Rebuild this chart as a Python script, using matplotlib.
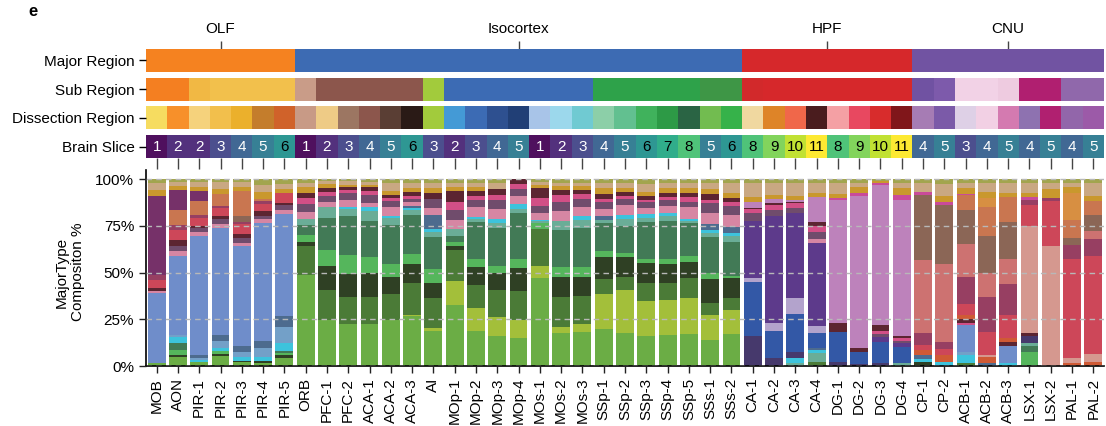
import matplotlib
matplotlib.use('Agg')
import matplotlib.pyplot as plt
import matplotlib.colors as mcolors
import numpy as np

plt.rcParams['font.family'] = ['Liberation Sans', 'DejaVu Sans']

samples = ['MOB', 'AON', 'PIR-1', 'PIR-2', 'PIR-3', 'PIR-4', 'PIR-5',
           'ORB', 'PFC-1', 'PFC-2', 'ACA-1', 'ACA-2', 'ACA-3', 'AI',
           'MOp-1', 'MOp-2', 'MOp-3', 'MOp-4', 'MOs-1', 'MOs-2', 'MOs-3',
           'SSp-1', 'SSp-2', 'SSp-3', 'SSp-4', 'SSp-5', 'SSs-1', 'SSs-2',
           'CA-1', 'CA-2', 'CA-3', 'CA-4', 'DG-1', 'DG-2', 'DG-3', 'DG-4',
           'CP-1', 'CP-2', 'ACB-1', 'ACB-2', 'ACB-3', 'LSX-1', 'LSX-2', 'PAL-1', 'PAL-2']

major_groups = ['OLF', 'Isocortex', 'HPF', 'CNU']
major_sizes = [7, 21, 8, 9]
major_group_colors = ['#f58220', '#3d6bb3', '#d6282b', '#7153a2']

sub_region_colors = (['#f47f21', '#f47f21', '#f1b844', '#f2c04c', '#f2c04c', '#f2c04c', '#f2c04c'] +
                     ['#c99c88'] + ['#8c564c'] * 5 + ['#a2cb3c'] + ['#3c6bb4'] * 7 +
                     ['#2ea24a'] * 5 + ['#3e9646'] * 2 +
                     ['#d2292b'] + ['#d6282b'] * 7 +
                     ['#7052a2', '#7d5aab', '#f2d2e6', '#f2d2e6', '#eecbe0',
                      '#b01f70', '#b01f70', '#9068ab', '#9068ab'])

dissection_colors = ['#f6dc60', '#f7902a', '#f5d27c', '#f2bf4c', '#ebb02c', '#c47d2c', '#d0622a',
                     '#c89a86', '#eecb86', '#9c7662', '#8c564c', '#5a3e34', '#2a1a16', '#a2cb3c',
                     '#449ad6', '#3c6bb4', '#2e5090', '#213f76', '#a8c4e8', '#9cd8ec', '#70cad2',
                     '#8ccfa8', '#62c090', '#40b25c', '#2d9a46', '#2a6444', '#72bc50', '#36b24a',
                     '#f0d8a0', '#de8428', '#f0674a', '#4a1c1e', '#f4a0a4', '#e84860', '#d82c2c', '#80161a',
                     '#a67cb4', '#7b5aa8', '#ded0e6', '#f2d0e4', '#d47ab0', '#8e72b0', '#b02070', '#9266aa', '#9c5aa8']

brain_slice = [1, 2, 2, 3, 4, 5, 6,
               1, 2, 3, 4, 5, 6, 3, 2, 3, 4, 5, 1, 2, 3, 4, 5, 6, 7, 8, 5, 6,
               8, 9, 10, 11, 8, 9, 10, 11,
               4, 5, 3, 4, 5, 4, 5, 4, 5]

# ---- MajorType composition values (%), bottom -> top ----
lgreen = [1.5, 4.6, 2, 5, 2, 1.8, 4,
          48, 24, 22.5, 22, 24, 26, 18, 32, 18.5, 16, 15, 47.5, 17.5, 18, 19.5, 17.5, 16, 16.5, 17, 13.5, 16.5,
          0, 0, 0, 0, 0, 0, 0, 0,
          0, 0, 0, 0, 0, 0, 0, 0, 0]
ygreen = [0, 0, 0, 0, 0, 0, 0,
          0, 0, 0, 0, 0, 1, 2, 12.5, 12, 10, 9.5, 6, 3, 4.5, 19, 22.5, 18, 18, 19, 13.5, 13,
          0, 0, 0, 0, 0, 0, 0, 0,
          0, 0, 0, 0, 0, 0, 0, 0, 0]
mgreen = [0, 0, 0, 0, 0, 0, 0,
          15, 16, 14, 14.5, 13.5, 16.5, 15.5, 16.5, 12, 14, 15.5, 20, 16, 14.5, 8, 7, 9.5, 9, 10.5, 6, 6,
          0, 0, 0, 2.3, 0, 0, 0, 0,
          0, 0, 1.8, 0, 0, 0, 0, 0, 0]
dgreen = [0, 1, 0, 1, 0.5, 1, 1.5,
          2, 12.5, 12.5, 12.5, 9, 10, 8, 2, 10, 9, 12, 0, 10.5, 10.5, 11.5, 10.5, 10.5, 10, 8.5, 13, 10.5,
          0, 0, 0, 0, 0, 0, 0, 0,
          2.3, 0, 0, 0, 0, 0, 0, 0, 0]
bgreen = [0, 2.5, 0, 1.5, 0, 0, 1,
          4, 8.5, 10, 8.5, 7, 5, 7, 2.5, 4, 4, 4.5, 3, 5, 5, 3, 2, 2.5, 2.7, 3, 3, 1.3,
          0, 0, 0, 0, 0, 0, 0, 0,
          0, 0, 0, 0, 0, 7.1, 0, 0, 0]
tgreen = [0, 3.5, 0, 0, 0, 0, 1,
          5, 16.5, 20.5, 19, 20, 20.5, 16.5, 3, 19.5, 20, 24.5, 0, 19.5, 21, 15, 14.5, 19, 20, 17.5, 19, 17.5,
          0, 0, 0, 0, 0, 0, 0, 0,
          0, 0, 0, 0, 0, 3.2, 0, 0, 0]
lteal = [0, 0, 0, 0, 0, 0, 0,
         3, 6, 4, 5, 4, 3, 3, 3.5, 1.8, 2.3, 2.5, 1.4, 5, 4, 1.8, 3.5, 2.3, 2.7, 0.9, 2, 3,
         0, 0, 1.8, 4.5, 0, 0, 0, 1.8,
         0, 0, 0, 0, 0, 1.8, 0, 0, 0]
cyan = [0, 3.5, 1, 2, 2, 2, 4.5,
        0, 0, 1, 2, 1, 0.8, 1.5, 0, 0.9, 2.5, 2.5, 0.5, 0, 2, 0, 2.5, 2.3, 1.4, 1.3, 2, 2,
        0, 0, 2.3, 1.8, 0, 0, 0, 0,
        1.6, 2.3, 4, 0, 1.8, 0, 0, 0, 0]
steel_l = [0, 1, 1, 3.5, 3, 4.5, 8,
           0, 0, 0, 0, 0, 0, 0, 0, 0, 0, 0, 0, 0, 0, 0, 0, 0, 0, 0, 0, 0,
           0, 0, 0, 0, 0, 0, 0, 0,
           0, 0, 1.8, 0, 0, 0, 0, 0, 0]
steel = [0, 0, 2, 3, 3, 3.5, 6,
         0, 0, 0, 0, 0, 1, 7, 0, 0, 0, 0, 0, 0, 0, 1.8, 0, 0, 0, 0, 3, 3,
         0, 0, 0, 0.9, 0, 0, 0, 0,
         2.1, 0, 0, 1.8, 0, 0, 0, 0, 0]
peri = [37, 40, 62, 55, 52, 61.5, 52.5,
        0, 0, 0, 0, 0, 0, 0, 0, 0, 0, 0, 0, 0, 0, 0, 0, 0, 0, 0, 0, 0,
        0, 0, 0, 0, 0, 0, 0, 0,
        0, 0, 14.2, 0, 8.9, 0, 0, 0, 0]
navy = [0, 0, 0, 0, 0, 0, 0,
        0, 0, 0, 0, 0, 0, 0, 0, 0, 0, 0, 0, 0, 0, 0, 0, 0, 0, 0, 0, 0,
        15.5, 4, 3.5, 0, 2.3, 1, 1.8, 0,
        0, 0, 0, 0, 0, 3.5, 0, 0, 0]
royal = [0, 0, 0, 0, 0, 0, 0,
         0, 0, 0, 0, 0, 0, 0, 0, 0, 0, 0, 0, 0, 0, 0, 0, 0, 0, 0, 0, 0,
         28.5, 14.5, 20, 8, 16, 6.5, 11, 8.5,
         0, 0, 0, 0, 0, 0, 0, 0, 0]
lav = [0, 0, 0, 0, 0, 0, 0,
       0, 0, 0, 0, 0, 0, 0, 0, 0, 0, 0, 0, 0, 0, 0, 0, 0, 0, 0, 0, 0,
       2, 4, 8, 3.5, 0, 0, 0, 0,
       0, 0, 0, 0, 0, 0, 0, 0, 0]
indigo = [0, 0, 0, 0, 0, 0, 0,
          0, 0, 0, 0, 0, 0, 0, 0, 0, 0, 0, 0, 0, 0, 0, 0, 0, 0, 0, 0, 0,
          30, 57, 45, 44, 0, 0, 2.6, 1.8,
          0, 0, 0, 0, 0, 0, 0, 0, 0]
pink = [1, 3, 2, 2, 2, 2, 2,
        4, 2.5, 3.5, 2.5, 4.5, 2, 4, 5, 5, 5, 4, 3.5, 5, 5, 4, 5, 3, 4, 6, 5.5, 6,
        0, 0, 0, 2, 0, 0, 0, 0,
        0, 0, 0, 0, 0, 0, 0, 0, 0]
mauve = [0, 2.5, 2, 2.5, 2.5, 1.5, 2.5,
         4, 3.5, 3.5, 4, 3, 2, 4.5, 5, 4, 5, 4, 4, 5, 4, 3.5, 3, 3, 3, 3, 5.5, 5,
         4, 3, 2.5, 4, 0, 0, 1.8, 1.4,
         0, 0, 0, 0, 0, 0, 0, 0, 0]
hpink = [0, 0, 0, 0, 0, 0, 0,
         3, 2, 2, 2, 1.5, 1.5, 0, 4.5, 2, 2.5, 2.5, 4.5, 3.5, 3, 1.6, 1.8, 1.3, 1.8, 2.3, 1.8, 2,
         2, 2.5, 2.5, 3, 0, 0, 1.4, 1.2,
         0, 0, 1.2, 0, 0, 0, 0, 0, 0]
maroon = [1.5, 3, 1, 1.5, 2, 2.5, 1.5,
          3, 2, 1.5, 2, 2, 1.8, 3, 5.5, 2.5, 3, 2.5, 5, 2.7, 1.8, 2.8, 2.3, 2, 2, 2, 3, 2.3,
          0.9, 1.4, 0.9, 2.3, 4.4, 2.3, 3, 1.4,
          0, 0, 1.8, 0, 1.8, 1.8, 0, 0, 0]
orchid = [0, 0, 0, 0, 0, 0, 0,
          0, 0, 0, 0, 0, 0, 0, 0, 0, 0, 0, 0, 0, 0, 0, 0, 0, 0, 0, 0, 0,
          3, 1.8, 0.9, 13, 65.5, 80.5, 74.5, 72,
          0, 0, 0, 0, 0, 0, 0, 0, 0]
orred = [0, 0, 0, 0, 0, 0, 0,
         0, 0, 0, 0, 0, 0, 0, 0, 0, 0, 0, 0, 0, 0, 0, 0, 0, 0, 0, 0, 0,
         0, 0, 0, 0, 0, 0, 0, 0,
         2.3, 3.5, 2.3, 2.8, 2.3, 0, 0, 1.4, 2.3]
salmon = [0, 0, 0, 0, 0, 0, 0,
          0, 0, 0, 0, 0, 0, 0, 0, 0, 0, 0, 0, 0, 0, 0, 0, 0, 0, 0, 0, 0,
          0, 0, 0, 0, 0, 0, 0, 0,
          0, 0, 0, 1.2, 0, 55.9, 63.8, 2.7, 4.1]
red = [4, 5, 4.5, 4.5, 5, 3.5, 5,
       0, 0, 0, 0, 0, 0, 0, 0, 0, 0, 0, 0, 0, 0, 0, 0, 0, 0, 0, 0, 0,
       0, 0, 0, 0, 0, 0, 0, 0,
       2.7, 3.2, 5.7, 12.4, 12.4, 11.2, 24.1, 52.7, 52.1]
rasp = [3, 2.5, 1.5, 1, 1, 2, 0,
        0, 0, 0, 0, 0, 0, 0, 0, 0, 0, 0, 0, 0, 0, 0, 0, 0, 0, 0, 0, 0,
        0, 0, 0, 0, 0, 0, 0, 0,
        6.2, 3.9, 14.5, 18.6, 16.3, 2.5, 1.2, 7.6, 8.9]
coral = [0, 0, 0, 0, 0, 0, 0,
         0, 0, 0, 0, 0, 0, 0, 0, 0, 0, 0, 0, 0, 0, 0, 0, 0, 0, 0, 0, 0,
         0, 0, 0, 0, 0, 0, 0, 0,
         38.5, 41.3, 17.4, 12.8, 13.3, 0, 0, 0, 4.6]
brown = [0, 0, 0, 0, 3.5, 0, 0,
         0, 0, 0, 0, 0, 0, 0, 0, 0, 0, 0, 0, 0, 0, 0, 0, 0, 0, 0, 0, 0,
         0, 0, 0, 0, 0, 0, 0, 0,
         34.2, 31.4, 18.1, 19.5, 19.5, 0, 0, 3.5, 8.3]
obrown = [0, 8, 7, 6, 13, 1, 0,
          0, 0, 0, 0, 0, 0, 0, 0, 0, 0, 0, 0, 0, 0, 0, 0, 0, 0, 0, 0, 0,
          0, 0, 0, 0, 0, 0, 0, 0,
          0, 0, 7.6, 15.2, 12.9, 0, 0, 9.8, 7.6]
orange = [0, 0, 0, 0, 0, 0, 0,
          0, 0, 0, 0, 0, 0, 0, 0, 0, 0, 0, 0, 0, 0, 0, 0, 0, 0, 0, 0, 0,
          0, 0, 0, 0, 0, 0, 0, 0,
          0, 0, 0, 4.8, 0, 0, 0, 14.5, 0]
dmag = [41, 10, 5.5, 0, 0, 0, 0,
        0, 0, 0, 0, 0, 0, 0, 0, 0, 0, 0, 0, 0, 0, 0, 0, 0, 0, 0, 0, 0,
        0, 0, 0, 0, 0, 0, 0, 0,
        0, 0, 0, 0, 0, 0, 0, 0, 0]
magenta = [0, 0, 0, 0, 0, 0, 0,
           0, 0, 0, 0, 0, 0, 0, 0, 0, 0, 0, 0, 0, 0, 0, 0, 0, 0, 0, 0, 0,
           0, 0, 0, 0, 0.9, 1.8, 1.2, 2.7,
           1.8, 1.8, 0.9, 0, 0, 1.8, 0, 0, 0]
gold = [3.5, 2, 2, 2.5, 2, 3.5, 2,
        3, 2, 1, 1.2, 2, 2.5, 3, 2.5, 2, 0, 0, 1.8, 2, 2, 3, 1.8, 2.3, 2.3, 2.7, 2.5, 2.5,
        2.3, 2, 1.8, 2, 2.3, 2.8, 1, 3.5,
        0, 3, 2.7, 3.5, 2.1, 2.1, 4.8, 2.8, 2.5]
tan = [3.5, 2, 2.5, 3.5, 2.5, 3.5, 2.5,
       2, 1.5, 2, 1.8, 4, 2.5, 2.3, 2, 2.3, 3.2, 0, 1.8, 1.8, 2, 2.7, 2.7, 4, 3, 2.7, 3.2, 5,
       7.5, 6.5, 7, 5.3, 5.7, 2.5, 0, 2.7,
       4.8, 6.4, 3, 4.8, 5.3, 5.3, 3.5, 2.5, 6.7]
olive = [2, 1.5, 1.5, 1.5, 1.5, 3, 2.5,
         2, 1, 1, 1.2, 2, 1.8, 2, 1.8, 2, 2, 0, 1.2, 1.8, 1.8, 2, 2, 2.5, 1.8, 2, 2, 2,
         2, 2, 2, 2, 2, 1.8, 0.8, 2,
         1.8, 2.5, 1.8, 1.8, 2.1, 1.8, 1.8, 1.8, 2.1]

layers = [
    (lgreen, '#6bad45'), (ygreen, '#a3bf3a'), (mgreen, '#4b7b37'), (dgreen, '#2f4024'),
    (bgreen, '#55b65c'), (tgreen, '#427a56'), (lteal, '#6aad97'), (cyan, '#3dc3dc'),
    (steel_l, '#73a0c8'), (steel, '#4d6b8e'), (peri, '#6f8dca'), (navy, '#46396c'),
    (royal, '#3358a6'), (lav, '#b3a3cc'), (indigo, '#5d3a8b'), (pink, '#d686a3'),
    (mauve, '#704c6c'), (hpink, '#d24f86'), (maroon, '#5c2531'), (orchid, '#bd82bb'),
    (orred, '#cf5a35'), (salmon, '#d5988f'), (red, '#cd4759'), (rasp, '#973f62'),
    (coral, '#cd7271'), (brown, '#8b6656'), (obrown, '#c97650'), (orange, '#d78f42'),
    (dmag, '#763169'), (magenta, '#c94b9a'), (gold, '#c9982d'), (tan, '#c9a882'),
    (olive, '#a2a54e'),
]

W, H = 1106, 426
fig = plt.figure(figsize=(W / 100, H / 100), dpi=100)


def frame(x0, y0, x1, y1):
    return [x0 / W, 1 - y1 / H, (x1 - x0) / W, (y1 - y0) / H]


n = len(samples)
x = np.arange(n)

# ---------------- stacked bars ----------------
ax = fig.add_axes(frame(146, 170, 1104, 366))
data = np.array([l[0] for l in layers], dtype=float)
pct = data / data.sum(axis=0) * 100
bottom = np.zeros(n)
for vals, col in zip(pct, [l[1] for l in layers]):
    ax.bar(x, vals, bottom=bottom, width=0.84, color=col, linewidth=0, zorder=1)
    bottom += vals

ax.set_xlim(-0.5, n - 0.5)
ax.set_ylim(0, 105)
ax.set_axisbelow(False)
ax.yaxis.grid(True, linestyle=(0, (4, 3)), color='#b8b8b8', linewidth=1.0)
ax.set_yticks([0, 25, 50, 75, 100])
ax.set_yticklabels(['0%', '25%', '50%', '75%', '100%'], fontsize=11)
ax.set_xticks(x)
ax.set_xticklabels(samples, rotation=90, fontsize=11)
ax.tick_params(axis='both', length=5, width=1.0, color='#222222')
for s in ['top', 'right']:
    ax.spines[s].set_visible(False)
for s in ['left', 'bottom']:
    ax.spines[s].set_linewidth(1.2)
fig.text(70 / W, 1 - 272 / H, 'MajorType\nCompositon %', rotation=90, ha='center',
         va='center', fontsize=11, multialignment='center')

# ---------------- annotation strips ----------------
sax = fig.add_axes(frame(146, 49, 1104, 158))
major_colors = []
for c, s in zip(major_group_colors, major_sizes):
    major_colors += [c] * s
rows = [(3, major_colors), (2, sub_region_colors), (1, dissection_colors)]
for yy, cols in rows:
    sax.bar(x, 0.8, bottom=yy - 0.4, width=1.0, color=cols, linewidth=0)
cmap = plt.get_cmap('viridis')


def soften(c, f=0.06):
    r, g, b = mcolors.to_rgb(c)
    return (r + (1 - r) * f, g + (1 - g) * f, b + (1 - b) * f)


slice_cols = [soften(cmap((v - 1) / 10)) for v in brain_slice]
sax.bar(x, 0.8, bottom=-0.4, width=1.0, color=slice_cols, linewidth=0)
for i, v in enumerate(brain_slice):
    sax.text(i, 0, str(v), ha='center', va='center', fontsize=11,
             color='white' if v <= 5 else 'black')
sax.set_xlim(-0.5, n - 0.5)
sax.set_ylim(-0.4, 3.4)
sax.set_yticks([3, 2, 1, 0])
sax.set_yticklabels(['Major Region', 'Sub Region', 'Dissection Region', 'Brain Slice'], fontsize=11)
sax.set_xticks(x)
sax.set_xticklabels([])
sax.tick_params(axis='y', length=5, width=1.0, pad=3)
sax.tick_params(axis='x', length=8, width=1.0, pad=2, color='#444444')
for s in sax.spines.values():
    s.set_visible(False)

centers = []
start = 0
for s in major_sizes:
    centers.append(start + (s - 1) / 2)
    start += s
top = sax.secondary_xaxis('top')
top.set_xticks(centers)
top.set_xticklabels(major_groups, fontsize=11)
top.tick_params(length=6, width=1.0, pad=3, color='#444444')
top.spines['top'].set_visible(False)

fig.text(28 / W, 1 - 12 / H, 'e', fontsize=12, fontweight='bold', ha='left', va='center')

fig.savefig('out.png', dpi=100)
